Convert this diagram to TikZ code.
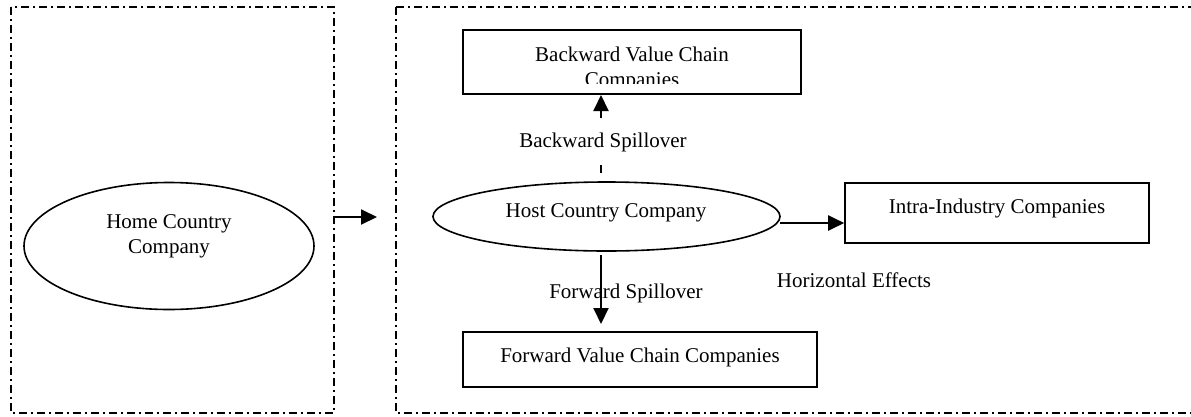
\documentclass[tikz,border=0pt]{standalone}
\usepackage{fontspec}
\setmainfont{Liberation Serif}
\usetikzlibrary{arrows.meta,shapes.geometric}
\begin{document}
\begin{tikzpicture}[x=1pt,y=-1pt,
  every node/.style={font=\fontsize{21}{25}\selectfont, inner sep=0pt},
  outerbox/.style={draw, line width=1.4pt, dash pattern=on 8pt off 4pt on 2pt off 4pt},
  ell/.style={draw, ellipse, line width=1.6pt},
  boxnode/.style={draw, rectangle, line width=1.6pt},
  tip/.tip={Triangle[length=16pt,width=15pt]},
  arr/.style={line width=2pt, -tip}]
\useasboundingbox (0,0) rectangle (1191,416);
% outer dash-dot frames
\draw[outerbox] (11,7) rectangle (334,413);
\draw[outerbox] (396,7) rectangle (1200,413);
% home ellipse
\node[ell, minimum width=290pt, minimum height=127pt] (home) at (169,246) {};
\node[align=center] (hometxt) at (169,236) {Home Country\\Company};
% host ellipse
\node[ell, minimum width=347pt, minimum height=69pt] (host) at (606.5,216.5) {};
\node (hosttxt) at (606,213) {Host Country Company};
% backward box
\node[boxnode, minimum width=338pt, minimum height=64pt] (back) at (632,62) {};
\begin{scope}
\clip (463,30) rectangle (801,83);
\node[align=center] (backtxt) at (632,69) {Backward Value Chain\\Companies};
\end{scope}
% intra box
\node[boxnode, minimum width=304pt, minimum height=60pt] (intra) at (997,213) {};
\node (intratxt) at (997,208) {Intra-Industry Companies};
% forward box
\node[boxnode, minimum width=354pt, minimum height=55pt] (fwd) at (640,359.5) {};
\node (fwdtxt) at (640,357) {Forward Value Chain Companies};
% connectors
\coordinate (lstart) at (335,217);
\coordinate (lend) at (377,217);
\draw[arr] (lstart) -- (lend);
\coordinate (bstart) at (601,173);
\coordinate (bend) at (601,95);
\draw[line width=2pt, dash pattern=on 8pt off 47pt, -tip] (bstart) -- (bend);
\coordinate (fstart) at (601,255);
\coordinate (fend) at (601,324);
\draw[arr] (fstart) -- (fend);
\coordinate (hstart) at (780,223);
\draw[arr] (hstart) -- (intra.west |- hstart);
% labels
\node (bl) at (603,142) {Backward Spillover};
\node (fl) at (626,293) {Forward Spillover};
\node (hl) at (854,280) {Horizontal Effects};
\end{tikzpicture}
\end{document}
